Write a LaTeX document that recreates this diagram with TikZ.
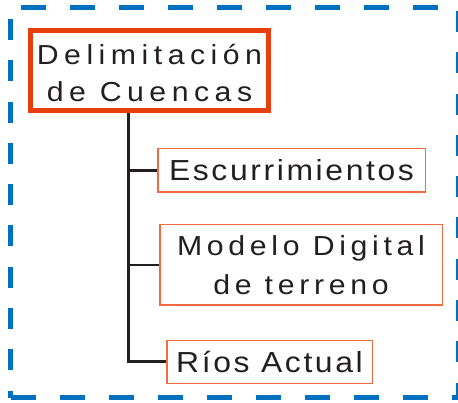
\documentclass[tikz,border=0pt]{standalone}
\usepackage{fontspec}
\setmainfont{Liberation Sans}[FakeStretch=1.1]
\usetikzlibrary{positioning}
\definecolor{frameblue}{HTML}{0070C0}
\definecolor{boxred}{HTML}{E8400C}
\definecolor{boxorange}{HTML}{F26A3E}
\definecolor{inkdark}{HTML}{231F20}
\tikzset{
    mainbox/.style={draw=boxred, line width=5pt, inner sep=0pt, align=center, text=inkdark}, % Top box
    subbox/.style={draw=boxorange, line width=1.5pt, inner sep=0pt, align=center, text=inkdark}, % Branch boxes
    conn/.style={draw=inkdark, line width=3pt}, % Tree lines
    bluedash/.style={draw=frameblue, line width=4.5pt}, % Outer frame
    hdash/.style={bluedash, dash pattern=on 25pt off 24pt},
    vdash/.style={bluedash, dash pattern=on 21pt off 20.3pt},
}

\begin{document}
\begin{tikzpicture}[x=1pt, y=-1pt]
        \useasboundingbox (0,0) rectangle (458,403);

        % Dashed frame
        \draw[hdash, dash phase=38.8pt] (10.5,7.3) -- (458.5,7.3);
        \draw[hdash] (10.5,397.5) -- (458.5,397.5);
        \draw[vdash, dash phase=29.6pt] (10.5,7.3) -- (10.5,397.5);
        \draw[vdash, dash phase=37.6pt] (458.5,7.3) -- (458.5,397.5);

        % Top box
        \node (cuencas) [mainbox, minimum width=238pt, minimum height=80pt,
            font={\fontsize{27.5}{36.7}\selectfont\addfontfeature{LetterSpace=20}}]
            at (149.5,70.5) {\rule{0pt}{25pt}Delimitación\\de Cuencas};

        % Branch points on the trunk
        \coordinate (t1) at (128,170.5);
        \coordinate (t2) at (128,265);
        \coordinate (t3) at (128,362);

        % Branch boxes
        \node (escurr) [subbox, right=29pt of t1, minimum width=267.5pt, minimum height=43.5pt,
            font={\fontsize{29}{34}\selectfont\addfontfeature{LetterSpace=9}}] {Escurrimientos};
        \node (modelo) [subbox, right=31pt of t2, minimum width=282.5pt, minimum height=80.5pt,
            font={\fontsize{27.5}{39}\selectfont\addfontfeature{LetterSpace=17}}] {Modelo Digital\\de terreno};
        \node (rios) [subbox, right=38pt of t3, minimum width=205.5pt, minimum height=42.5pt,
            font={\fontsize{29}{34}\selectfont\addfontfeature{LetterSpace=9}}] {Ríos Actual};

        % Tree lines
        \draw[conn] (cuencas.south -| t1) |- (rios.west);
        \draw[conn] (t1) -- (escurr.west);
        \draw[conn, line width=2pt] (t2) -- (modelo.west);
    \end{tikzpicture}
\end{document}
